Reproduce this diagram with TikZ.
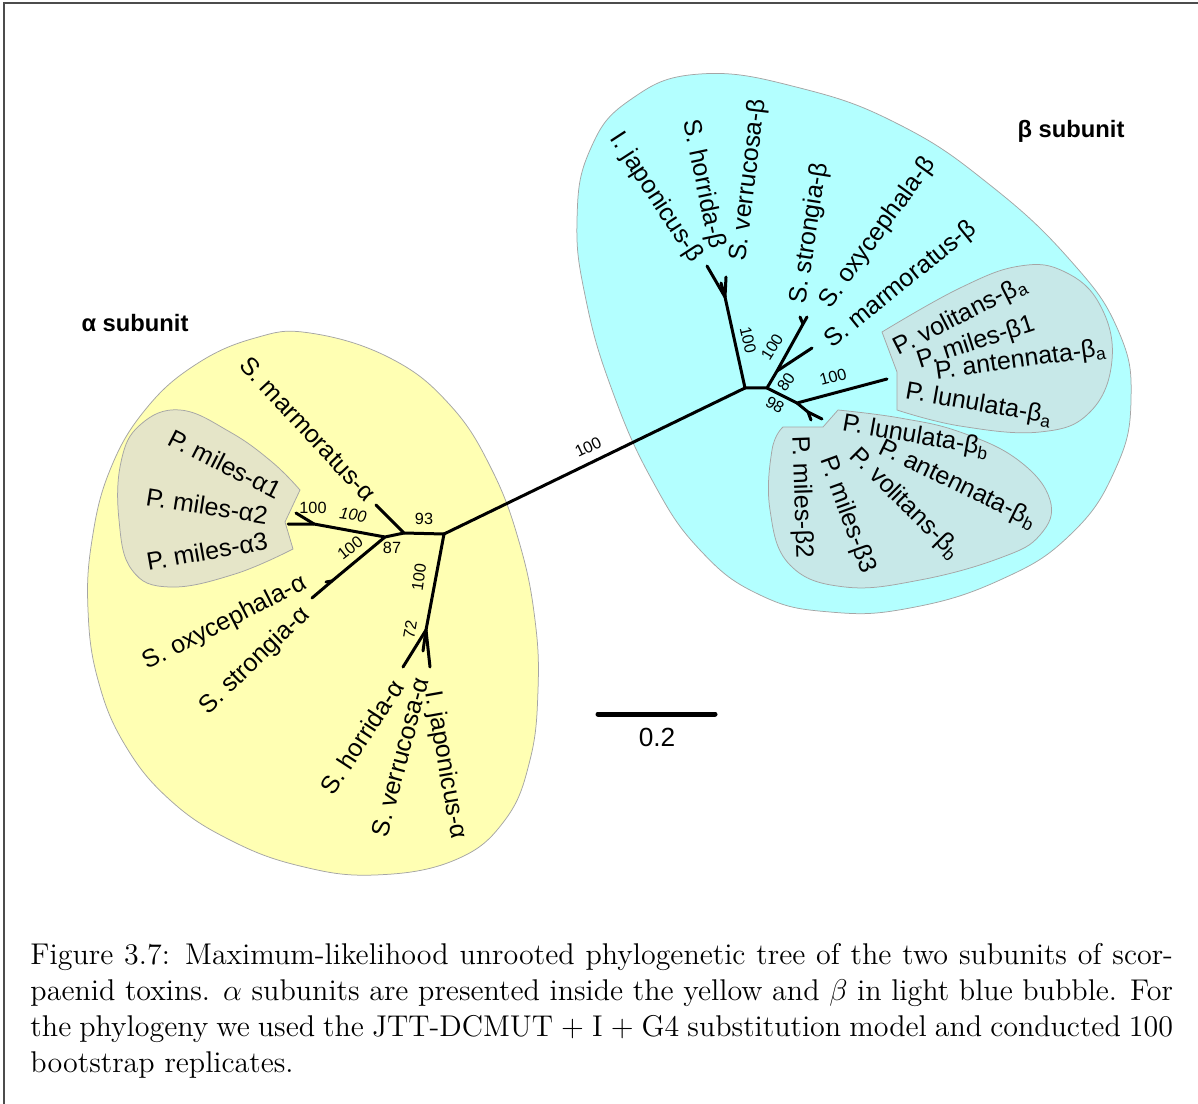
\documentclass[tikz,border=0pt]{standalone}
\usepackage{fontspec}
\newfontfamily\arialf{Liberation Sans}
\definecolor{yelbub}{RGB}{255,255,179}
\definecolor{olivebub}{RGB}{229,229,200}
\definecolor{cyanbub}{RGB}{179,255,255}
\definecolor{tealbub}{RGB}{199,232,232}
\definecolor{bubline}{RGB}{165,165,165}
\tikzset{
  br/.style={line width=1.2pt, line cap=round, line join=round},
  leaf/.style={font=\arialf\fontsize{10}{12}\selectfont, inner sep=0pt},
  bs/.style={font=\arialf\fontsize{6.5}{8}\selectfont, inner sep=0pt},
  bubble/.style={draw=bubline, line width=0.3pt}
}
\begin{document}
\begin{tikzpicture}[x=0.4pt,y=-0.4pt]
\useasboundingbox (0,0) rectangle (1198,1104);
% frame
\draw[gray!60!black, line width=0.7pt] (4,1104) -- (4,3) -- (1198,3);

% bubbles
\draw[bubble, fill=yelbub] plot[smooth cycle, tension=0.7] coordinates {(310,333) (390,358) (450,405) (492,470) (520,545) (535,620) (538,690) (530,760) (505,820) (455,860) (375,875) (300,866) (230,840) (170,800) (125,745) (98,680) (88,610) (92,540) (110,470) (145,410) (195,365) (255,338)};
\draw[bubble, fill=olivebub] (300,490) -- (285,522) -- (293,549) -- plot[smooth, tension=0.7] coordinates {(293,549) (235,574) (170,587) (132,570) (119,520) (121,462) (140,425) (180,410) (230,432) (272,462) (300,490)} -- cycle;
\draw[bubble, fill=cyanbub] plot[smooth cycle, tension=0.75] coordinates {(700,74) (800,88) (900,125) (990,185) (1070,260) (1118,330) (1131,400) (1115,470) (1070,535) (1000,580) (910,608) (830,612) (760,595) (700,550) (652,480) (612,390) (586,300) (577,220) (590,150) (630,100)};
\draw[bubble, fill=tealbub] (882,332) -- (897,372) -- (897,410) -- plot[smooth, tension=0.7] coordinates {(897,410) (960,426) (1040,432) (1090,412) (1112,360) (1100,305) (1065,272) (1020,266) (960,288) (882,332)} -- cycle;
\draw[bubble, fill=tealbub] (783,427) -- (823,427) -- (838,410) -- plot[smooth, tension=0.7] coordinates {(838,410) (900,418) (960,432) (1018,460) (1050,500) (1040,535) (1000,558) (920,580) (845,587) (790,565) (770,510) (772,450) (783,427)} -- cycle;

% tree nodes, alpha side
\coordinate (ra) at (444,534);
\coordinate (a93) at (404,533);
\coordinate (amar) at (376,505);
\coordinate (a87) at (385,537);
\coordinate (apm) at (314,524);
\coordinate (apm1) at (296,513);
\coordinate (apm23) at (288,524);
\coordinate (aso) at (332,581);
\coordinate (aox) at (326,582);
\coordinate (astr) at (312,598);
\coordinate (a72) at (426,630);
\coordinate (aver) at (423,651);
\coordinate (ahor) at (403,667);
\coordinate (ajap) at (430,667);
% tree nodes, beta side
\coordinate (rb) at (745,388);
\coordinate (bjn) at (725,297);
\coordinate (bjap) at (707,266);
\coordinate (bhor) at (721,283);
\coordinate (bver) at (726,277);
\coordinate (bc) at (767,388);
\coordinate (bm) at (777,371);
\coordinate (bso) at (803,324);
\coordinate (bstr) at (807,317);
\coordinate (boxy) at (800,317);
\coordinate (bmar) at (812,348);
\coordinate (b98) at (797,403);
\coordinate (bpa) at (887,379);
\coordinate (bpb) at (808,412);
\coordinate (bpb1) at (822,419);
\coordinate (bpb2) at (811,420);

% branches
\draw[br] (ra) -- (rb);
\draw[br] (ra) -- (a93) -- (amar);
\draw[br] (a93) -- (a87) -- (apm) -- (apm23);
\draw[br] (apm) -- (apm1);
\draw[br] (a87) -- (aso) -- (astr);
\draw[br] (aso) -- (aox);
\draw[br] (ra) -- (a72) -- (ahor);
\draw[br] (a72) -- (ajap);
\draw[br] (a72) -- (aver);
\draw[br] (rb) -- (bjn) -- (bjap);
\draw[br] (bjn) -- (bver);
\draw[br] (bjn) -- (bhor);
\draw[br] (rb) -- (bc) -- (bm) -- (bso) -- (bstr);
\draw[br] (bso) -- (boxy);
\draw[br] (bm) -- (bmar);
\draw[br] (bc) -- (b98) -- (bpa);
\draw[br] (b98) -- (bpb) -- (bpb1);
\draw[br] (bpb) -- (bpb2);

% leaf labels, alpha
\node[leaf, rotate=-47] (lamar) at (308,429) {S. marmoratus-α};
\node[leaf, rotate=-27] (lapm1) at (225,464) {P. miles-α1};
\node[leaf, rotate=-9] (lapm2) at (207,506) {P. miles-α2};
\node[leaf, rotate=10] (lapm3) at (207,551) {P. miles-α3};
\node[leaf, rotate=27] (laox) at (225,623) {S. oxycephala-α};
\node[leaf, rotate=44] (lastr) at (255,661) {S. strongia-α};
\node[leaf, rotate=57] (lahor) at (362,737) {S. horrida-α};
\node[leaf, rotate=75] (laver) at (400,757) {S. verrucosa-α};
\node[leaf, rotate=-80] (lajap) at (445,765) {I. japonicus-α};
% leaf labels, beta
\node[leaf, rotate=-57] (lbjap) at (656,198) {I. japonicus-β};
\node[leaf, rotate=-78] (lbhor) at (703,184) {S. horrida-β};
\node[leaf, rotate=83] (lbver) at (749,180) {S. verrucosa-β};
\node[leaf, rotate=81] (lbstr) at (810,233) {S. strongia-β};
\node[leaf, rotate=54] (lbox) at (878,233) {S. oxycephala-β};
\node[leaf, rotate=39] (lbmar) at (901,285) {S. marmoratus-β};
\node[leaf, rotate=27] (lbvoa) at (961,317) {P. volitans-β\textsubscript{a}};
\node[leaf, rotate=18] (lbm1) at (976,343) {P. miles-β1};
\node[leaf, rotate=8] (lbana) at (1021,361) {P. antennata-β\textsubscript{a}};
\node[leaf, rotate=-10] (lblua) at (979,405) {P. lunulata-β\textsubscript{a}};
\node[leaf, rotate=-10] (lblub) at (916,437) {P. lunulata-β\textsubscript{b}};
\node[leaf, rotate=-26] (lbanb) at (958,485) {P. antennata-β\textsubscript{b}};
\node[leaf, rotate=-45] (lbvob) at (905,504) {P. volitans-β\textsubscript{b}};
\node[leaf, rotate=-70] (lbm3) at (847,515) {P. miles-β3};
\node[leaf, rotate=-88] (lbm2) at (801,497) {P. miles-β2};

% bootstrap values
\node[bs, rotate=26] (bs1) at (588,447) {100};
\node[bs] (bs2) at (424,519) {93};
\node[bs] (bs3) at (392,548) {87};
\node[bs] (bs4) at (313,508) {100};
\node[bs, rotate=-8, font=\arialf\itshape\fontsize{6.5}{8}\selectfont] (bs5) at (353,515) {100};
\node[bs, rotate=38] (bs6) at (350,548) {100};
\node[bs, rotate=82] (bs7) at (419,577) {100};
\node[bs, rotate=80] (bs8) at (410,630) {72};
\node[bs, rotate=-77] (bs9) at (748,340) {100};
\node[bs, rotate=58] (bs10) at (772,347) {100};
\node[bs, rotate=55] (bs11) at (786,382) {80};
\node[bs, rotate=-30] (bs12) at (775,405) {98};
\node[bs, rotate=15] (bs13) at (833,377) {100};

% group titles
\node[font=\arialf\bfseries\fontsize{9.5}{11}\selectfont] (asub) at (135,323) {α subunit};
\node[font=\arialf\bfseries\fontsize{9.5}{11}\selectfont] (bsub) at (1071,131) {β subunit};

% scale bar
\coordinate (sbl) at (598,714);
\coordinate (sbr) at (715,714);
\draw[line width=2pt, line cap=round] (sbl) -- (sbr);
\node[font=\arialf\fontsize{10.5}{12}\selectfont] (sbt) at (657,737) {0.2};

% caption
\node[anchor=north west, text width=457pt, align=justify, inner sep=0pt, font=\fontsize{12}{14.4}\selectfont] (cap) at (30,943) {Figure 3.7: Maximum-likelihood unrooted phylogenetic tree of the two subunits of scor-\linebreak paenid toxins. $\alpha$ subunits are presented inside the yellow and $\beta$ in light blue bubble. For\linebreak the phylogeny we used the JTT-DCMUT $+$ I $+$ G4 substitution model and conducted 100\linebreak bootstrap replicates.};
\end{tikzpicture}
\end{document}
